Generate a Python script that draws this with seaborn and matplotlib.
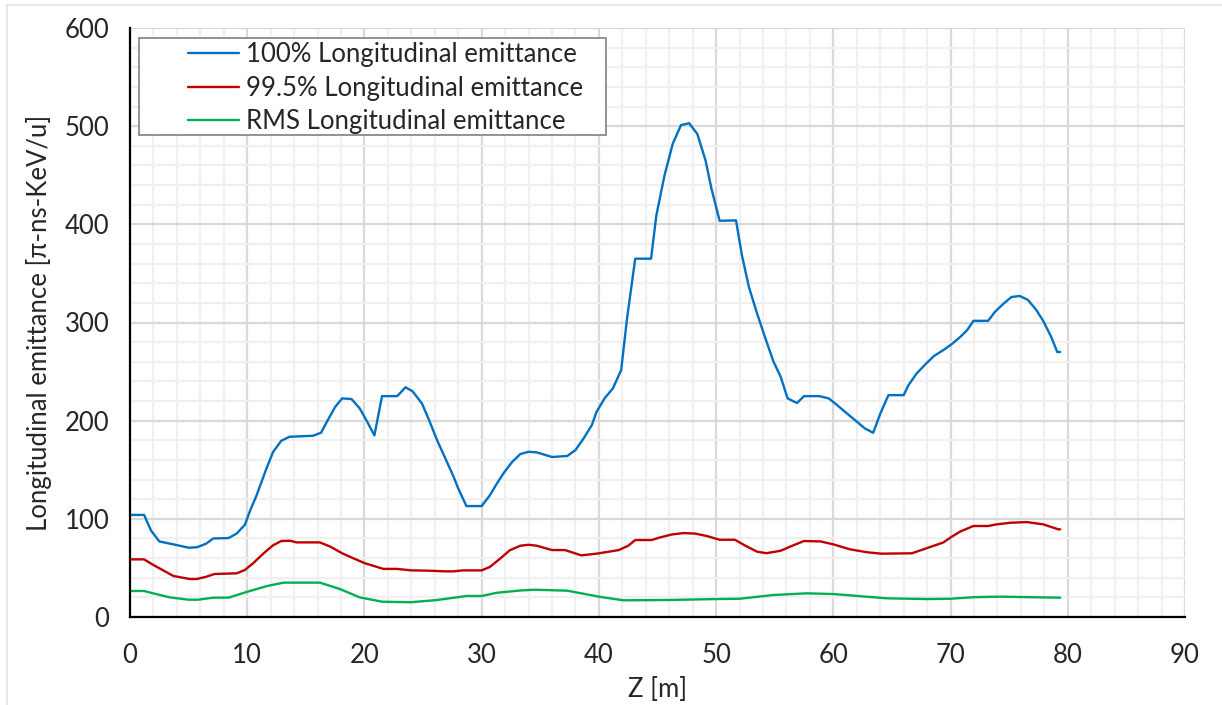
import matplotlib
matplotlib.use("Agg")
import matplotlib.pyplot as plt
import numpy as np
import pandas as pd
import seaborn as sns
from matplotlib.ticker import MultipleLocator
from matplotlib.patches import Rectangle

# Longitudinal emittance along the beam line, Z [m]
blue_z = [0, 1.2, 1.8, 2.5, 3.7, 5.0, 5.7, 6.5, 7.1, 8.4, 9.1, 9.8, 10.2, 10.8,
          11.6, 12.2, 12.9, 13.6, 15.6, 16.3, 16.8, 17.5, 18.1, 18.9, 19.6, 20.2,
          20.85, 21.5, 22.8, 23.5, 24.1, 24.9, 25.5, 26.2, 26.9, 27.6, 28.0, 28.7,
          30.0, 30.7, 31.3, 31.9, 32.6, 33.3, 34.0, 34.7, 36.0, 37.3, 38.0, 38.7,
          39.4, 39.8, 40.5, 41.2, 41.9, 42.4, 43.1, 44.45, 44.9, 45.6, 46.3, 47.0,
          47.7, 48.4, 49.1, 49.6, 50.3, 51.7, 52.2, 52.8, 53.5, 54.2, 54.9, 55.5,
          56.1, 56.9, 57.5, 58.8, 59.6, 60.15, 60.9, 62.0, 62.7, 63.4, 64.0, 64.7,
          66.0, 66.4, 67.1, 67.9, 68.6, 69.4, 70.1, 70.8, 71.4, 71.95, 73.2, 73.8,
          74.5, 75.2, 75.9, 76.6, 77.3, 77.9, 78.6, 79.1, 79.35]
blue_v = [104, 104, 88, 77, 74, 70.6, 71, 74.7, 80, 80.4, 85, 94, 107, 124,
          150, 168, 179.5, 183.6, 184.6, 187.7, 199, 214, 222.7, 222, 212.5, 199.6,
          185, 225, 225, 234, 230, 217.6, 201, 180, 161.6, 143, 131, 113,
          113, 124, 136, 147, 158, 166, 168.3, 167.7, 163, 164, 170, 182,
          195.5, 209, 223, 233, 251.5, 304, 365, 365, 409, 450, 482, 501,
          503, 492, 465, 436.5, 403.6, 404, 368.6, 336, 309, 284, 260, 245,
          222.7, 218, 225, 225, 222.7, 217.6, 210, 199, 192, 187.7, 207, 226,
          226, 236, 248, 258, 266, 272, 278, 285, 292, 301.7, 301.7, 311,
          319, 326, 327, 323, 313, 301.7, 285, 270, 270]

red_z = [0, 1.2, 1.85, 2.6, 3.7, 5.1, 5.7, 6.5, 7.2, 9.1, 9.8, 10.5, 11.4, 12.2,
         12.9, 13.65, 14.2, 16.2, 17.1, 18.1, 19.05, 20.05, 20.8, 21.6, 22.75, 24.0,
         25.45, 26.9, 27.6, 28.4, 30.0, 30.7, 31.6, 32.4, 33.3, 34.0, 34.7, 36.0,
         37.1, 38.5, 39.8, 41.7, 42.5, 43.1, 44.5, 45.2, 46.2, 47.2, 48.2, 49.2,
         50.3, 51.6, 52.5, 53.5, 54.3, 55.5, 56.5, 57.5, 58.9, 60.0, 61.4, 62.9,
         64.1, 66.7, 67.7, 69.4, 70.0, 70.8, 71.95, 73.2, 73.95, 75.1, 76.5, 77.9,
         79.2, 79.35]
red_v = [58.7, 58.7, 54, 49, 41.8, 38.7, 38.7, 41, 43.8, 44.5, 47.9, 54.7, 64.9, 73,
         77.4, 77.7, 76, 76, 71.6, 64.9, 59.8, 54.7, 52, 49, 49, 47.5,
         47.2, 46.5, 46.5, 47.5, 47.5, 51, 59.7, 68, 72.6, 73.6, 72.6, 68.2,
         68.2, 62.8, 64.5, 68.2, 72.6, 78.4, 78.4, 81, 84, 85.5, 85, 82.5,
         78.7, 78.7, 72.6, 66.5, 65, 67.5, 72.6, 77.4, 77, 74, 69, 65.9,
         64.5, 64.9, 69, 76, 81, 86.9, 92.7, 92.7, 94.4, 96, 96.7, 94.4,
         89.3, 89.3]

green_z = [0, 1.2, 2.0, 3.4, 5.0, 5.8, 7.1, 8.4, 9.95, 11.7, 13.1, 16.2, 17.9,
           19.6, 21.5, 23.9, 26.2, 28.7, 30.0, 31.3, 33.3, 34.5, 37.3, 40.1, 42.1,
           45.8, 50.1, 52.0, 54.9, 57.7, 60.0, 64.6, 68.0, 70.0, 72.0, 74.2, 79.35]
green_v = [26.5, 26.5, 24, 20, 17.6, 17.6, 19.7, 19.7, 25.5, 31.6, 35, 35, 28.5,
           20, 15.6, 15, 17.3, 21.4, 21.4, 24.7, 27, 27.8, 26.8, 20.5, 17,
           17.3, 18.3, 18.6, 22.4, 24.1, 23.4, 19, 18.3, 18.6, 20.2, 20.7, 19.7]

series_names = ["100% Longitudinal emittance",
                "99.5% Longitudinal emittance",
                "RMS Longitudinal emittance"]
series_colors = ["#0070C0", "#C00000", "#00B050"]

x_ticks = [0, 10, 20, 30, 40, 50, 60, 70, 80, 90]
y_ticks = [0, 100, 200, 300, 400, 500, 600]

df = pd.concat([
    pd.DataFrame({"z": blue_z, "emittance": blue_v, "series": series_names[0]}),
    pd.DataFrame({"z": red_z, "emittance": red_v, "series": series_names[1]}),
    pd.DataFrame({"z": green_z, "emittance": green_v, "series": series_names[2]}),
], ignore_index=True)

sns.set_style("white")
plt.rcParams["font.family"] = ["Lato", "DejaVu Sans"]
FS = 18.5

W, H = 1222, 705
fig = plt.figure(figsize=(W / 100, H / 100), dpi=100)
ax = fig.add_axes([130 / W, 88 / H, 1055 / W, 589 / H])

# light outer chart border
fig.patches.append(Rectangle((7 / W, -0.05), 1.2, 1.05 - 5 / H,
                             transform=fig.transFigure, fill=False,
                             edgecolor="#E3E3E3", linewidth=1.2, zorder=0))

sns.lineplot(data=df, x="z", y="emittance", hue="series",
             palette=dict(zip(series_names, series_colors)),
             sort=False, estimator=None, linewidth=1.7, ax=ax)

ax.set_xlim(x_ticks[0], x_ticks[-1])
ax.set_ylim(y_ticks[0], y_ticks[-1])
ax.set_xticks(x_ticks)
ax.set_yticks(y_ticks)
ax.xaxis.set_minor_locator(MultipleLocator(2))
ax.yaxis.set_minor_locator(MultipleLocator(20))

ax.grid(which="major", color="#D9D9D9", linewidth=1.6)
ax.grid(which="minor", color="#F0F0F0", linewidth=1.6)
ax.set_axisbelow(True)

for side in ["top", "right"]:
    ax.spines[side].set_visible(False)
for side in ["left", "bottom"]:
    ax.spines[side].set_color("black")
    ax.spines[side].set_linewidth(1.6)

ax.tick_params(which="major", direction="out", length=6, width=1.4,
               color="black", labelsize=FS)
ax.tick_params(axis="x", which="major", pad=13)
ax.tick_params(axis="y", which="major", pad=9)
ax.tick_params(which="minor", length=0)

ax.set_xlabel("Z [m]", fontsize=FS, labelpad=6)
ax.set_ylabel("Longitudinal emittance [π-ns-KeV/u]", fontsize=FS, labelpad=9)

handles, labels = ax.get_legend_handles_labels()
ax.get_legend().remove()
leg = ax.legend(handles, labels, loc="upper left",
                bbox_to_anchor=((188 - 130) / 1055, (617 - 42) / 589),
                frameon=False, fontsize=FS, handlelength=2.0,
                handletextpad=0.24, labelspacing=0.34, borderpad=0,
                borderaxespad=0)
leg.set_zorder(6)
ax.add_patch(Rectangle(((139 - 130) / 1055, (617 - 135) / 589),
                       (606 - 139) / 1055, (135 - 38) / 589,
                       transform=ax.transAxes, facecolor="white",
                       edgecolor="#808080", linewidth=1.2, zorder=5))

fig.savefig("out.png", dpi=100)
